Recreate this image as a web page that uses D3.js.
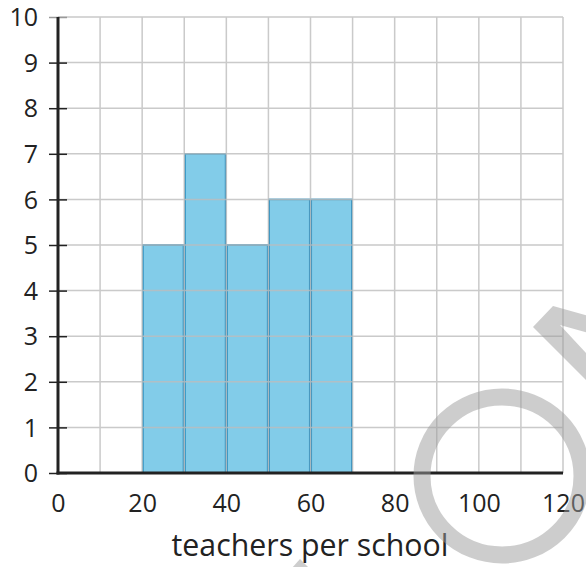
<!DOCTYPE html>
<html>
<head>
<meta charset="utf-8">
<script src="https://cdn.jsdelivr.net/npm/d3@7"></script>
<style>
  html, body { margin: 0; padding: 0; background: #fff; }
  svg { display: block; font-family: "Open Sans", "Noto Sans", sans-serif; }
</style>
</head>
<body>
<svg id="chart" width="586" height="567"></svg>
<script>
// Histogram: number of schools by teachers per school
const binStarts = [20, 30, 40, 50, 60];
const binWidth = 10;
const counts = [5, 7, 5, 6, 6];
const xTicks = [0, 20, 40, 60, 80, 100, 120];
const yTicks = [0, 1, 2, 3, 4, 5, 6, 7, 8, 9, 10];
const xLabel = "teachers per school";

const svg = d3.select("#chart");
const x = d3.scaleLinear().domain([0, 120]).range([58, 563]);
const y = d3.scaleLinear().domain([0, 10]).range([473, 17]);

// bars
svg.append("g").selectAll("rect")
  .data(binStarts.map((s, i) => ({ s, c: counts[i] })))
  .join("rect")
  .attr("x", d => x(d.s) + 0.75)
  .attr("y", d => y(d.c))
  .attr("width", d => x(d.s + binWidth) - x(d.s) - 1.5)
  .attr("height", d => y(0) - y(d.c))
  .attr("fill", "#82cce9")
  .attr("stroke", "#2e90c0")
  .attr("stroke-width", 1.6);

// grid
const grid = svg.append("g").attr("stroke", "#bdbdbd").attr("stroke-width", 1.5).attr("opacity", 0.8);
grid.selectAll("line.v")
  .data(d3.range(10, 121, 10))
  .join("line")
  .attr("x1", d => x(d)).attr("x2", d => x(d))
  .attr("y1", y(10)).attr("y2", y(0));
grid.selectAll("line.h")
  .data(yTicks.filter(d => d > 0))
  .join("line")
  .attr("x1", x(0)).attr("x2", x(120))
  .attr("y1", d => y(d)).attr("y2", d => y(d));

// y axis
const yAxis = d3.axisLeft(y).tickValues(yTicks).tickSize(9).tickPadding(11).tickFormat(d3.format("d"));
const gy = svg.append("g").attr("transform", `translate(${x(0)},0)`).call(yAxis);
gy.select(".domain").remove();
gy.selectAll(".tick line").attr("x2", -9).attr("x1", 9).attr("stroke", "#222").attr("stroke-width", 1.5);
gy.selectAll(".tick").filter(d => d === 10).select("line").attr("stroke", "#999");
gy.selectAll(".tick text").attr("font-size", 25).attr("fill", "#222").attr("font-family", "'Open Sans', sans-serif").attr("dy", "0.35em");

// x axis
const xAxis = d3.axisBottom(x).tickValues(xTicks).tickSize(0).tickPadding(21).tickFormat(d3.format("d"));
const gx = svg.append("g").attr("transform", `translate(0,${y(0)})`).call(xAxis);
gx.select(".domain").remove();
gx.selectAll(".tick text").attr("font-size", 25).attr("fill", "#222").attr("font-family", "'Open Sans', sans-serif");

// axis lines
svg.append("line").attr("x1", x(0)).attr("x2", x(0)).attr("y1", y(10)).attr("y2", y(0) + 1.5)
  .attr("stroke", "#222").attr("stroke-width", 3);
svg.append("line").attr("x1", x(0) - 1.5).attr("x2", x(120)).attr("y1", y(0)).attr("y2", y(0))
  .attr("stroke", "#222").attr("stroke-width", 3);

// axis title
svg.append("text").attr("x", 310).attr("y", 556).attr("text-anchor", "middle")
  .attr("font-size", 30.3).attr("fill", "#222").text(xLabel);

// faint decorative strokes in the lower right
const deco = svg.append("g").attr("fill", "#9c9c9c").attr("opacity", 0.5);
deco.append("ellipse").attr("cx", 502).attr("cy", 476).attr("rx", 80).attr("ry", 79)
  .attr("fill", "none").attr("stroke", "#9c9c9c").attr("stroke-width", 17);
deco.append("polygon").attr("points", "533,327 553,306 600,319 600,336 560,325 600,368 600,394");
deco.append("polygon").attr("points", "300,559 292,568 309,568");
</script>
</body>
</html>
